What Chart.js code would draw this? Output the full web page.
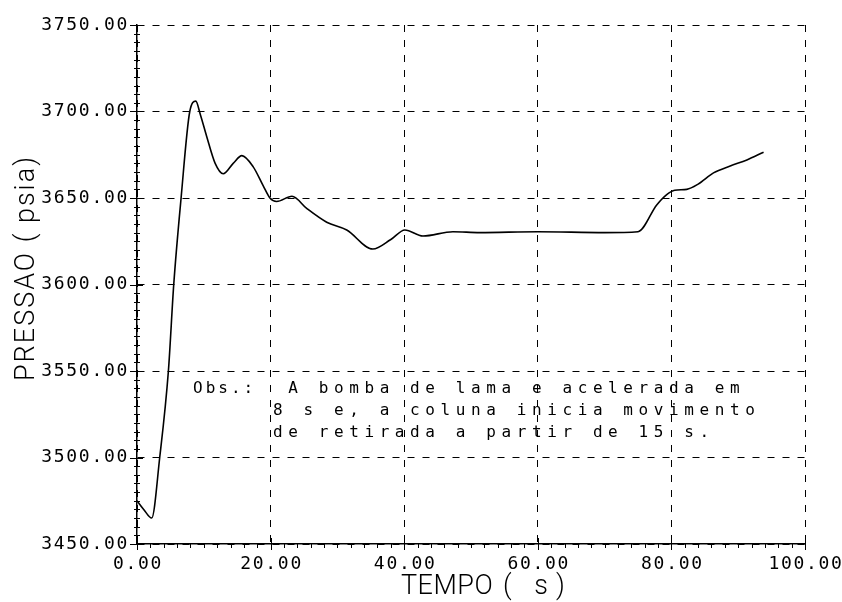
<!DOCTYPE html>
<html>
<head>
<meta charset="utf-8">
<script src="https://cdn.jsdelivr.net/npm/chart.js@4.4.1/dist/chart.umd.min.js"></script>
<style>
    html, body { margin: 0; padding: 0; background: #fff; }
    #grafico { display: block; }
</style>
</head>
<body>
<canvas id="grafico" width="842" height="602"></canvas>
<script>

// curva de pressao no fundo do poco (psia) ao longo do tempo (s)
const tempo = [0, 1, 2.2, 3.4, 4.7, 5.5, 6.6, 7.9, 8.8, 9.5, 10.4, 11.7, 12.9, 14.4, 15.7, 17.4, 18.9, 19.9, 20.9, 23.2, 25.4, 28.4, 31.4, 35.3, 38, 40.1, 42.8, 47.3, 51.3, 60, 70, 75, 77.8, 79.3, 80.5, 82.3, 84, 86.3, 88.8, 91.3, 93.8]
const pressao = [3475, 3470, 3465, 3500, 3550, 3600, 3650, 3700, 3706, 3698, 3686, 3670, 3664, 3670, 3674.5, 3668, 3657, 3650, 3648, 3651, 3644, 3636, 3631.5, 3620.5, 3626, 3631.5, 3628, 3630.5, 3630, 3630.5, 3630, 3630.5, 3646, 3652, 3654.5, 3655, 3658, 3664.5, 3668.5, 3672, 3676.5]

const ticks_x = [0, 20, 40, 60, 80, 100]
const ticks_y = [3450, 3500, 3550, 3600, 3650, 3700, 3750]

const titulo_x = 'TEMPO'
const unidade_x = '( s)'
const titulo_y = 'PRESSAO ( psia)'
const obs_rotulo = 'Obs.:'
const obs_texto = [
    ' A bomba de lama e acelerada em',
    '8 s e, a coluna inicia movimento',
    'de retirada a partir de 15 s.'
]

const FONTE = '"DejaVu Sans Mono", monospace'

// marcas menores, rotulos e textos feitos a mao por cima do grafico
const desenho_extra = {
    id: 'desenho_extra',
    afterDraw(chart) {
        const ctx = chart.ctx
        const sx = chart.scales.x
        const sy = chart.scales.y
        const area = chart.chartArea

        ctx.save()
        ctx.strokeStyle = '#000'
        ctx.lineWidth = 1

        // tracinhos do eixo y, de 5 em 5
        for (let v = 3450; v <= 3750; v += 5) {
            const y = Math.round(sy.getPixelForValue(v)) + 0.5
            const maior = ticks_y.includes(v)
            ctx.beginPath()
            ctx.moveTo(area.left - (maior ? 7 : 3), y)
            ctx.lineTo(area.left + (maior ? 6 : 3), y)
            ctx.stroke()
        }
        // tracinhos do eixo x, de 2 em 2
        for (let v = 0; v <= 100; v += 2) {
            const x = Math.round(sx.getPixelForValue(v)) + 0.5
            const maior = ticks_x.includes(v)
            ctx.beginPath()
            ctx.moveTo(x, area.bottom - (maior ? 6 : 0))
            ctx.lineTo(x, area.bottom + (maior ? 6 : 4))
            ctx.stroke()
        }

        ctx.fillStyle = '#000'
        ctx.letterSpacing = '1.7px'
        ctx.font = '18px ' + FONTE

        // valores do eixo y
        ctx.textAlign = 'right'
        ctx.textBaseline = 'middle'
        ticks_y.forEach(v => {
            ctx.fillText(v.toFixed(2), area.left - 8, sy.getPixelForValue(v))
        })
        // valores do eixo x
        ctx.textAlign = 'center'
        ctx.textBaseline = 'middle'
        ticks_x.forEach(v => {
            ctx.fillText(v.toFixed(2), sx.getPixelForValue(v) + 1, area.bottom + 20)
        })

        // titulos dos eixos
        ctx.font = '300 27px Roboto, ' + FONTE
        ctx.textAlign = 'left'
        ctx.textBaseline = 'alphabetic'
        ctx.letterSpacing = '0.5px'
        ctx.fillText(titulo_x, 401, 594)
        ctx.letterSpacing = '8px'
        ctx.fillText(unidade_x, 503, 594)

        ctx.letterSpacing = '2px'
        ctx.save()
        ctx.translate(34, 381)
        ctx.rotate(-Math.PI / 2)
        ctx.fillText(titulo_y, 0, 0)
        ctx.restore()

        // observacao dentro do grafico
        ctx.letterSpacing = '5.6px'
        ctx.font = '16px ' + FONTE
        ctx.textAlign = 'left'
        ctx.textBaseline = 'middle'
        ctx.letterSpacing = '3px'
        ctx.fillText(obs_rotulo, 193, 389)
        ctx.letterSpacing = '5.6px'
        obs_texto.forEach((linha, i) => {
            ctx.fillText(linha, 273, 389 + i * 22)
        })

        ctx.restore()
    }
}

const ctx = document.getElementById('grafico').getContext('2d')
new Chart(ctx, {
    type: 'line',
    data: {
        datasets: [{
            data: tempo.map((t, i) => ({ x: t, y: pressao[i] })),
            borderColor: '#000',
            borderWidth: 1.6,
            pointRadius: 0,
            fill: false,
            tension: 0.35,
            cubicInterpolationMode: 'monotone'
        }]
    },
    options: {
        responsive: false,
        animation: false,
        devicePixelRatio: 1,
        layout: {
            padding: { left: 137, right: 37, top: 25, bottom: 58 }
        },
        plugins: {
            legend: { display: false },
            tooltip: { enabled: false }
        },
        scales: {
            x: {
                type: 'linear',
                min: 0,
                max: 100,
                afterBuildTicks: scale => { scale.ticks = ticks_x.map(v => ({ value: v })) },
                ticks: { display: false },
                grid: { color: '#000', lineWidth: 1, drawTicks: false },
                border: { display: true, color: '#000', width: 1.5, dash: [7, 8] }
            },
            y: {
                type: 'linear',
                min: 3450,
                max: 3750,
                afterBuildTicks: scale => { scale.ticks = ticks_y.map(v => ({ value: v })) },
                ticks: { display: false },
                grid: { color: '#000', lineWidth: 1, drawTicks: false },
                border: { display: true, color: '#000', width: 1.5, dash: [7, 8] }
            }
        }
    },
    plugins: [desenho_extra]
})
</script>
</body>
</html>
